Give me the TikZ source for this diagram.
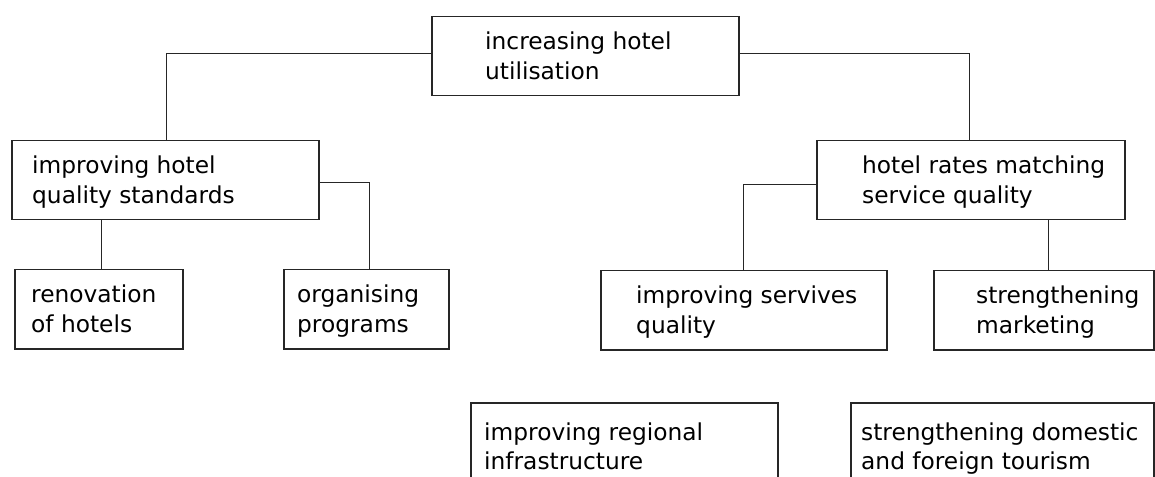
\documentclass[tikz,border=0pt]{standalone}
\usepackage{fontspec}
\setmainfont{DejaVu Sans}
\begin{document}
\begin{tikzpicture}[x=1bp,y=-1bp,
  box/.style={draw=black!85, line width=1.5bp, anchor=north west, inner sep=0pt},
  txt/.style={inner sep=0pt, anchor=base west, align=left,
    font=\fontsize{23.3bp}{29.5bp}\selectfont},
  link/.style={draw=black!85, line width=1.3bp}]
\useasboundingbox (0,0) rectangle (1155,477);
\clip (0,0) rectangle (1155,477);

% boxes (top-left corner, size)
\node[box, minimum width=307bp, minimum height=79bp] (A) at (431,16) {};
\node[box, minimum width=307bp, minimum height=79bp] (B) at (11,140) {};
\node[box, minimum width=308bp, minimum height=79bp] (C) at (816,140) {};
\node[box, minimum width=168bp, minimum height=79bp] (D) at (14,269) {};
\node[box, minimum width=165bp, minimum height=79bp] (E) at (283,269) {};
\node[box, minimum width=286bp, minimum height=79bp] (F) at (600,270) {};
\node[box, minimum width=220bp, minimum height=79bp] (G) at (933,270) {};
\node[box, minimum width=307bp, minimum height=79bp] (H) at (470,402) {};
\node[box, minimum width=303bp, minimum height=79bp] (I) at (850,402) {};

% labels (anchored on the baseline of the second line)
\node[txt] (tA) at (485,79.5) {increasing hotel\\utilisation};
\node[txt] (tB) at (32,203.5) {improving hotel\\quality standards};
\node[txt] (tC) at (862,203.5) {hotel rates matching\\service quality};
\node[txt] (tD) at (31,332.5) {renovation\\of hotels};
\node[txt] (tE) at (297,332.5) {organising\\programs};
\node[txt] (tF) at (636,333.5) {improving servives\\quality};
\node[txt] (tG) at (976,333.5) {strengthening\\marketing};
\node[txt] (tH) at (484,469.5) {improving regional\\infrastructure};
\node[txt] (tI) at (861,469.5) {strengthening domestic\\and foreign tourism};

% connectors
\draw[link] ([yshift=2.5bp]A.west) -| ([xshift=1.5bp]B.north);
\draw[link] ([yshift=2.5bp]A.east) -| ([xshift=-1bp]C.north);
\draw[link] ([xshift=3bp]D.north) -- ([xshift=3bp]D.north |- B.south);
\draw[link] ([yshift=-2.5bp]B.east) -| ([xshift=3.5bp]E.north);
\draw[link] ([yshift=-4.5bp]C.west) -| (F.north);
\draw[link] ([xshift=5bp]G.north) -- ([xshift=5bp]G.north |- C.south);
\end{tikzpicture}
\end{document}
